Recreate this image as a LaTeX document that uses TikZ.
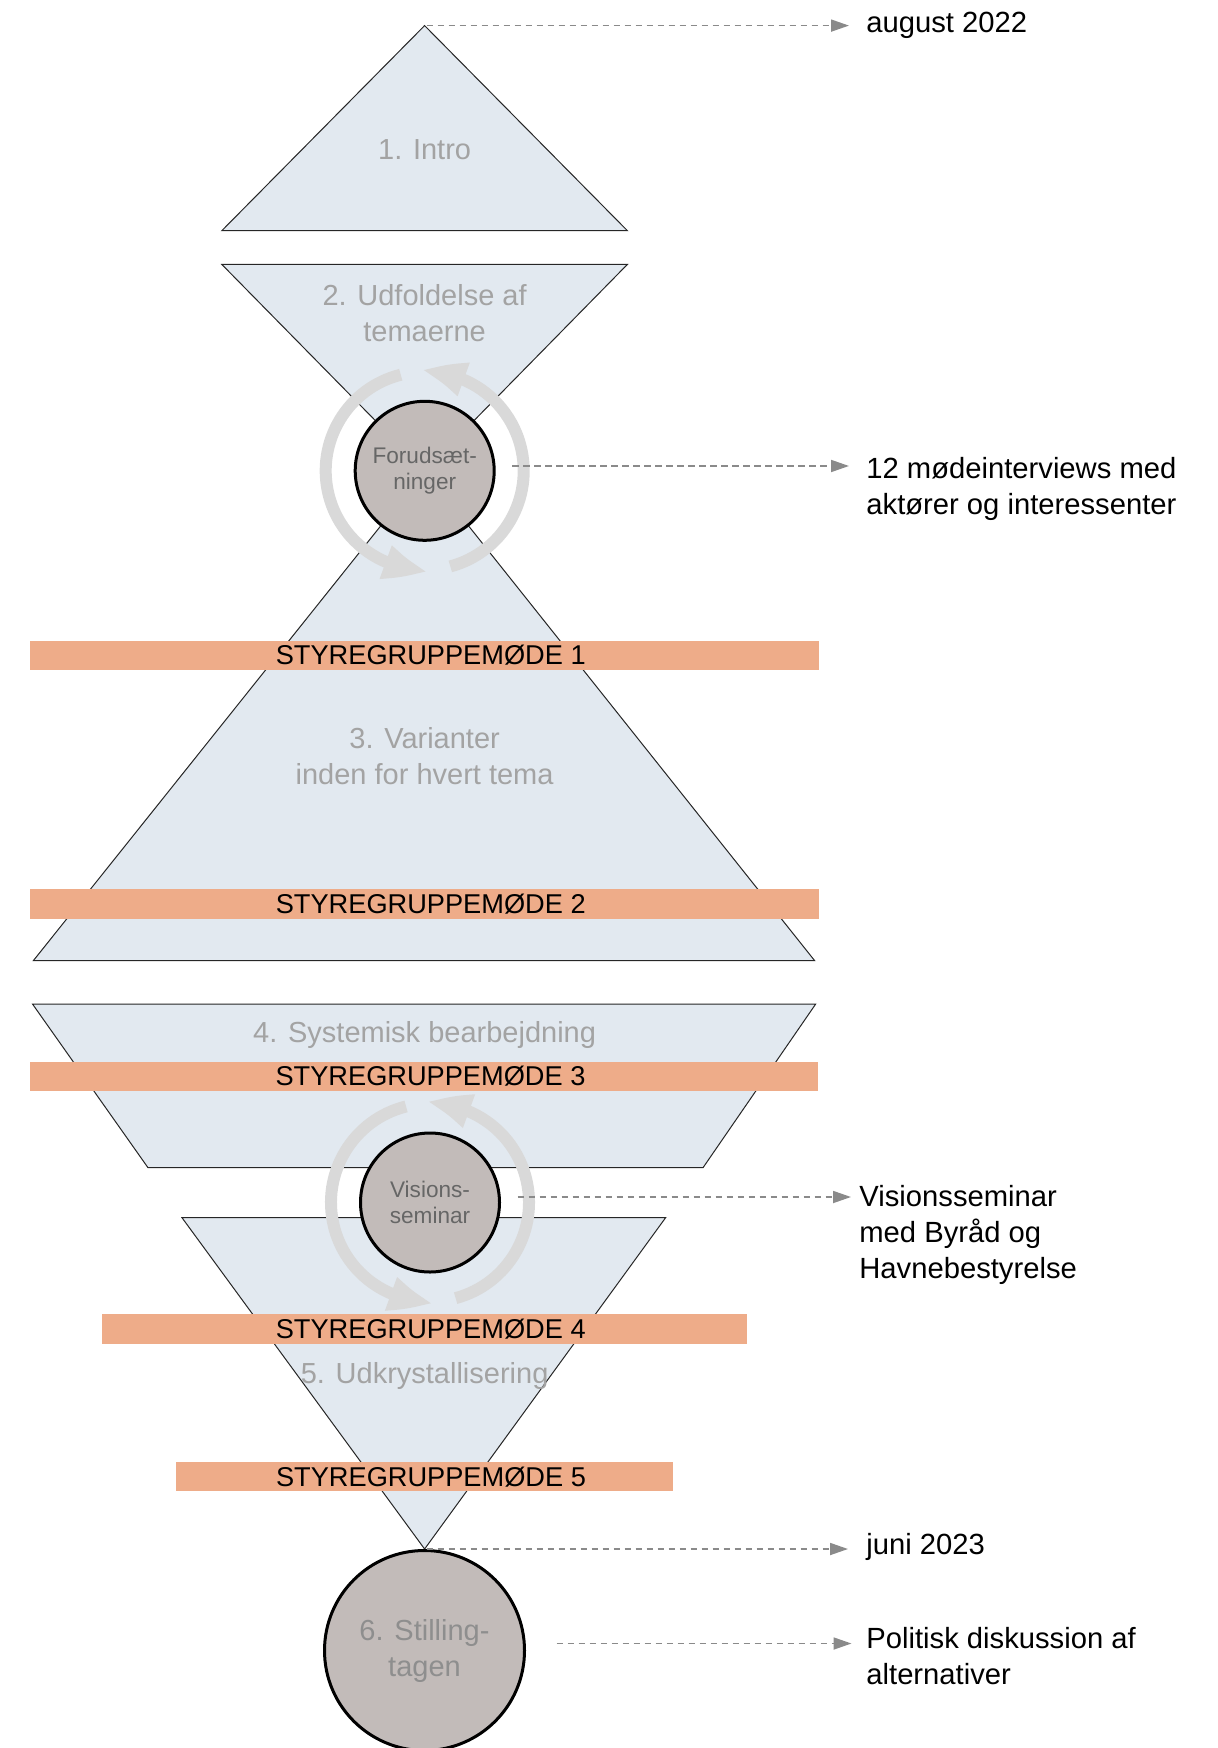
\documentclass[tikz,border=0pt]{standalone}
\usepackage{fontspec}
\setmainfont{Liberation Sans}
\usetikzlibrary{arrows.meta,bending}
\definecolor{phasefill}{HTML}{E2E9F0}
\definecolor{barfill}{HTML}{EEAC89}
\definecolor{circfill}{HTML}{C2BBB9}
\definecolor{loopgray}{HTML}{D9D9D9}
\definecolor{phasetext}{HTML}{A3A3A3}
\definecolor{stilltext}{HTML}{8E8E8E}
\definecolor{circtext}{HTML}{666666}
\definecolor{dashgray}{HTML}{8A8A8A}
\newcommand\notefnt{\fontsize{14.6pt}{18pt}\selectfont}
\newcommand\phasefnt{\fontsize{14.5pt}{18pt}\selectfont}
\newcommand\barfnt{\fontsize{13.6pt}{16pt}\selectfont}
\newcommand\hubfnt{\fontsize{11.3pt}{13pt}\selectfont}
\tikzset{
  phase/.style={fill=phasefill, draw=black!85, line width=0.5pt, line join=miter},
  bar/.style={fill=barfill, draw=none, inner sep=0pt, minimum height=14.7pt, font=\barfnt, text=black, execute at begin node={\hspace*{6.5pt}}},
  phasetxt/.style={font=\phasefnt, text=phasetext, align=center, inner sep=0pt},
  hub/.style={circle, fill=circfill, draw=black, line width=1.5pt, minimum size=69.5pt, inner sep=0pt, font=\hubfnt, text=circtext, align=center},
  note/.style={font=\notefnt, align=left, inner sep=0pt, text=black},
  conn/.style={dashgray, line width=0.9pt, dash pattern=on 3.2pt off 2.3pt, -{Triangle[length=9pt,width=6pt]}},
  loopline/.style={loopgray, line width=6pt, -{Triangle[length=22pt,width=16pt,bend]}},
  loopring/.pic={
    \draw[loopline] (104:99) arc[start angle=104, end angle=272, radius=99];
    \draw[loopline] (285:99) arc[start angle=285, end angle=452, radius=99];
  }
}
\begin{document}
\begin{tikzpicture}[x=0.5pt,y=0.5pt]
\useasboundingbox (0,0) rectangle (1218,-1748);

% key points
\coordinate (apexA) at (424.6,-25.6);
\coordinate (cA) at (424.7,-470.8);
\coordinate (cB) at (430,-1202.5);
\coordinate (apexE) at (424.6,-1549);

% phase shapes
\draw[phase] (apexA) -- (627.4,-230.7) -- (221.8,-230.7) -- cycle;
\draw[phase] (221.8,-264.4) -- (627.4,-264.4) -- (cA) -- cycle;
\draw[phase] (cA) -- (814.6,-960.6) -- (33.4,-960.6) -- cycle;
\draw[phase] (32.5,-1004) -- (815.7,-1004) -- (703,-1167.7) -- (148,-1167.7) -- cycle;
\draw[phase] (182,-1217.7) -- (665.6,-1217.7) -- (apexE) -- cycle;

% phase labels
\node[phasetxt, anchor=base] (p1) at (424.6,-160) {1. Intro};
\node[phasetxt] (p2) at (424.6,-313.4) {2. Udfoldelse af\\temaerne};
\node[phasetxt] (p3) at (424.6,-755.9) {3. Varianter\\inden for hvert tema};
\node[phasetxt, anchor=base] (p4) at (424.6,-1042) {4. Systemisk bearbejdning};
\node[phasetxt, anchor=base] (p5) at (424.6,-1383) {5. Udkrystallisering};

% steering group bars
\node[bar, minimum width=394.25pt] (s1) at (424.25,-655.4) {STYREGRUPPEMØDE 1};
\node[bar, minimum width=394.25pt] (s2) at (424.25,-904) {STYREGRUPPEMØDE 2};
\node[bar, minimum width=394pt] (s3) at (424,-1076.2) {STYREGRUPPEMØDE 3};
\node[bar, minimum width=322.25pt] (s4) at (424.25,-1328.9) {STYREGRUPPEMØDE 4};
\node[bar, minimum width=248.5pt] (s5) at (424.5,-1476.75) {STYREGRUPPEMØDE 5};

% iteration loops
\pic at (cA) {loopring};
\pic at (cB) {loopring};

% hubs
\node[hub] (forud) at (cA) {Forudsæt-\\ninger};
\node[hub] (vision) at (cB) {Visions-\\seminar};
\node[hub, minimum size=100pt, font=\phasefnt, text=stilltext] (stilling) at (424.5,-1650.5) {6. Stilling-\\tagen};

% arrow ends
\coordinate (t1) at (849,-25.6);
\coordinate (t2) at (849,-466);
\coordinate (t3) at (851,-1197);
\coordinate (t4) at (848,-1549);
\coordinate (t5) at (851.5,-1643.5);

% connectors
\draw[conn, shorten <=1pt] (apexA) -- (t1);
\draw[conn, shorten <=8.2pt] (forud.east |- t2) -- (t2);
\draw[conn, shorten <=8.3pt] (vision.east |- t3) -- (t3);
\draw[conn, shorten <=1pt] (apexE) -- (t4);
\draw[conn, shorten <=15.3pt] (stilling.east |- t5) -- (t5);

% notes
\node[note, anchor=base west] (n1) at (866,-32.7) {august 2022};
\node[note, anchor=west] (n2) at (866,-489) {12 mødeinterviews med\\aktører og interessenter};
\node[note, anchor=west] (n3) at (859,-1235) {Visionsseminar\\med Byråd og\\Havnebestyrelse};
\node[note, anchor=base west] (n4) at (866,-1554) {juni 2023};
\node[note, anchor=west] (n5) at (866,-1656) {Politisk diskussion af\\alternativer};
\end{tikzpicture}
\end{document}
